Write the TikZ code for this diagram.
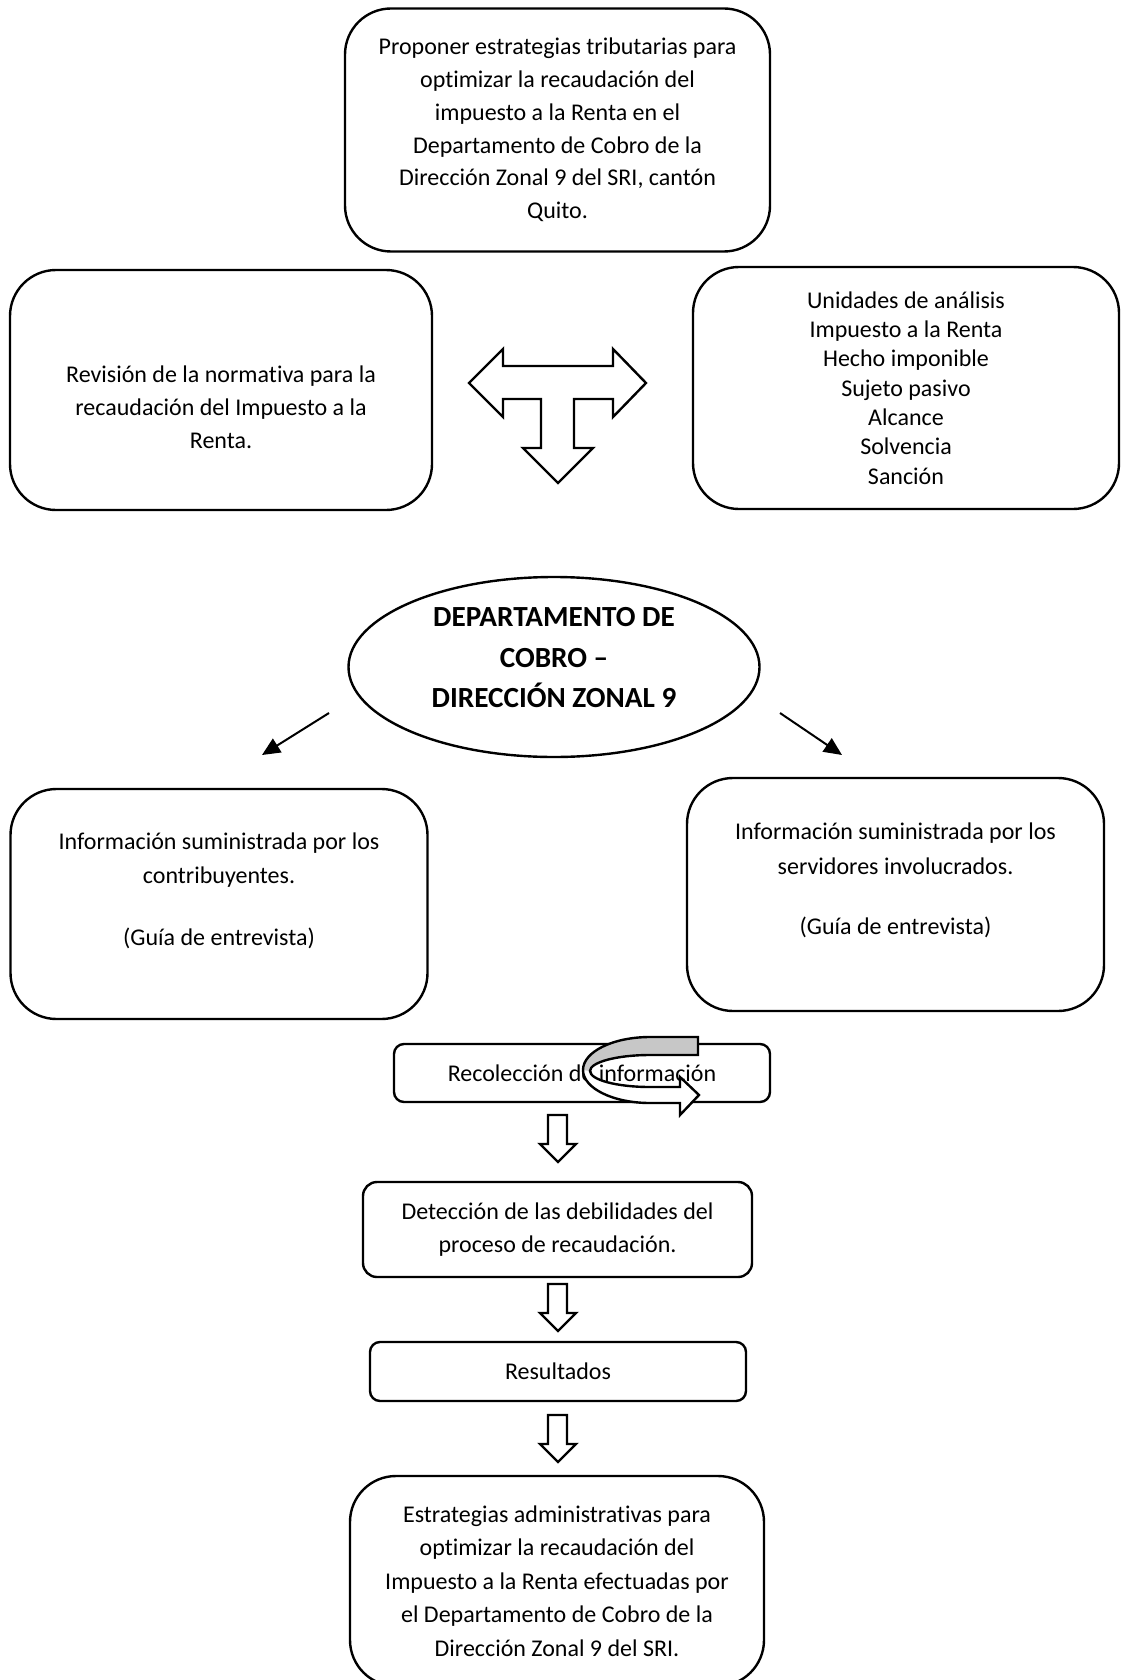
\documentclass[tikz,border=0pt]{standalone}
\usepackage{fontspec}
\setmainfont[Ligatures=NoCommon]{Carlito}
\usetikzlibrary{shapes.geometric,arrows.meta}

\tikzset{
  bigbox/.style={draw, line width=1.2pt, rounded corners=23pt, inner sep=0pt, align=center},
  smallbox/.style={draw, line width=1.2pt, rounded corners=5pt, inner sep=0pt, align=center},
  boxtext/.style={align=center, inner sep=0pt},
  blockarrow/.style={draw, fill=white, line width=1.2pt, line join=miter},
  thinarrow/.style={-{Triangle[length=9pt,width=8pt]}, line width=1pt},
}

\begin{document}
\begin{tikzpicture}[x=0.5pt,y=-0.5pt,font=\fontsize{12}{16.4}\selectfont]
\clip (0,0) rectangle (1120,1680);

% objetivo general
\node[bigbox, minimum width=212.5pt, minimum height=121.5pt, font=\fontsize{12}{16.35}\selectfont] (objetivo) at (557.5,130) {Proponer estrategias tributarias para\\ optimizar la recaudación del\\ impuesto a la Renta en el\\ Departamento de Cobro de la\\ Dirección Zonal 9 del SRI, cantón\\ Quito.};

% normativa y unidades de analisis
\node[bigbox, minimum width=211pt, minimum height=120pt] (revision) at (221,390) {};
\node[boxtext, font=\fontsize{12}{16.5}\selectfont] (revisiontext) at (221,407) {Revisión de la normativa para la\\ recaudación del Impuesto a la\\ Renta.};

\node[bigbox, minimum width=213pt, minimum height=121pt, font=\fontsize{12}{14.65}\selectfont] (unidades) at (906,388) {Unidades de análisis\\ Impuesto a la Renta\\ Hecho imponible\\ Sujeto pasivo\\ Alcance\\ Solvencia\\ Sanción};

% flecha en T
\draw[blockarrow] (469,383) -- (503,349) -- (503,366) -- (613,366) -- (613,349) -- (646,383) -- (613,417) -- (613,399) -- (574,399) -- (574,448) -- (593,448) -- (558,483) -- (523,448) -- (541,448) -- (541,399) -- (503,399) -- (503,417) -- cycle;

% departamento
\node[ellipse, draw, line width=1.2pt, minimum width=205.5pt, minimum height=90pt, inner sep=0pt] (depto) at (554,667) {};
\node[boxtext, font=\fontsize{14.6}{20.25}\selectfont\bfseries] (deptotext) at (554,658) {DEPARTAMENTO DE\\ COBRO –\\ DIRECCIÓN ZONAL 9};

\coordinate (izqa) at (329,713);
\coordinate (izqb) at (262,755);
\coordinate (dera) at (780,713);
\coordinate (derb) at (842,755);
\draw[thinarrow] (izqa) -- (izqb);
\draw[thinarrow] (dera) -- (derb);

% fuentes de informacion
\node[bigbox, minimum width=208.5pt, minimum height=115pt] (contrib) at (219,904) {};
\node[boxtext, font=\fontsize{12}{17}\selectfont] (contribtext) at (219,891) {Información suministrada por los\\ contribuyentes.\\[14pt] (Guía de entrevista)};

\node[bigbox, minimum width=208.5pt, minimum height=116.5pt] (servid) at (895.5,894.5) {};
\node[boxtext, font=\fontsize{12}{17.5}\selectfont] (servidtext) at (895.5,880) {Información suministrada por los\\ servidores involucrados.\\[12.5pt] (Guía de entrevista)};

% proceso
\node[smallbox, minimum width=188pt, minimum height=29pt] (recol) at (582,1073) {Recolección de información};

% flecha circular
\fill[white] (698,1037) -- (650,1037) arc[start angle=270, end angle=90, x radius=67, y radius=33] -- (680,1103) -- (680,1115) -- (699,1095) -- (680,1077) -- (680,1087) -- (650,1087) arc[start angle=90, end angle=270, x radius=60, y radius=16] -- (698,1055) -- cycle;
\fill[black!22] (698,1037) -- (650,1037) arc[start angle=270, end angle=180, x radius=67, y radius=33] -- (590,1071) arc[start angle=180, end angle=270, x radius=60, y radius=16] -- (698,1055) -- cycle;
\draw[line width=1.2pt, line join=miter] (698,1037) -- (650,1037) arc[start angle=270, end angle=90, x radius=67, y radius=33] -- (680,1103) -- (680,1115) -- (699,1095) -- (680,1077) -- (680,1087) -- (650,1087) arc[start angle=90, end angle=270, x radius=60, y radius=16] -- (698,1055) -- cycle;

\node[smallbox, rounded corners=7pt, minimum width=194.5pt, minimum height=47.5pt, font=\fontsize{12}{16.5}\selectfont] (deteccion) at (557.5,1229.5) {Detección de las debilidades del\\ proceso de recaudación.};

\node[smallbox, minimum width=188pt, minimum height=29.5pt] (resultados) at (558,1371.5) {Resultados};

\node[bigbox, minimum width=207pt, minimum height=105pt, font=\fontsize{12}{16.75}\selectfont] (estrategias) at (557,1581) {Estrategias administrativas para\\ optimizar la recaudación del\\ Impuesto a la Renta efectuadas por\\ el Departamento de Cobro de la\\ Dirección Zonal 9 del SRI.};

% flechas hacia abajo
\foreach \y in {1115,1284,1415}
  \draw[blockarrow] (548,\y) -- (567,\y) -- (567,\y+29) -- (576,\y+29) -- (558,\y+47) -- (540,\y+29) -- (548,\y+29) -- cycle;
\end{tikzpicture}
\end{document}
